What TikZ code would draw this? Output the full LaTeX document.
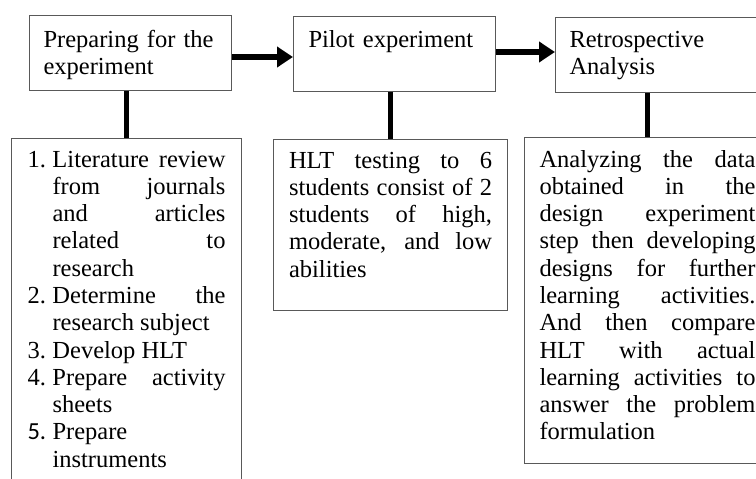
\documentclass[tikz,border=0pt]{standalone}
\usepackage{fontspec}
\setmainfont{Liberation Serif}
\newfontfamily\numfont{Carlito}
\usetikzlibrary{arrows.meta}

\newcommand{\stepitem}[1]{\noindent\hangindent=25pt\hangafter=1\makebox[25pt][l]{#1}}

\begin{document}
\begin{tikzpicture}[x=1pt,y=-1pt,
    stagebox/.style={draw=black!65, line width=1pt, anchor=base west, inner ysep=0pt,
      font=\fontsize{24.5}{27.3}\selectfont,
      execute at begin node={\tolerance=10000\hbadness=10000}},
    flow/.style={line width=5.5pt, -{Triangle[length=16pt,width=20pt]}},
    link/.style={line width=5.5pt}]
  \useasboundingbox (0,0) rectangle (756,479);
  \clip (0,0) rectangle (756,479);

  % top row
  \node[stagebox, align=left, text width=174pt, inner xsep=14pt,
        text height=32pt, text depth=43pt] (prep) at (29,47)
        {Preparing for the\\experiment};
  \node[stagebox, align=left, text width=172pt, inner xsep=15pt,
        text height=31pt, text depth=44pt] (pilot) at (293,47)
        {Pilot experiment};
  \node[stagebox, align=left, text width=172.5pt, inner xsep=14pt,
        text height=30pt, text depth=45pt] (retro) at (555,47)
        {Retrospective\\Analysis};

  % bottom row
  \node[stagebox, align=justify, text width=198pt, inner xsep=16pt,
        text height=29pt, text depth=340pt] (list) at (11,167) {%
    \stepitem{1.}Literature review\linebreak from journals\linebreak and articles\linebreak related to\linebreak research\par
    \stepitem{2.}Determine the\linebreak research subject\par
    \stepitem{3.}Develop HLT\par
    \stepitem{4.}Prepare activity\linebreak sheets\par
    \stepitem{{\numfont 5.}}Prepare\linebreak instruments\par};
  \node[stagebox, align=justify, text width=203pt, inner xsep=15.5pt,
        text height=29pt, text depth=142pt] (hlt) at (273,168) {%
    HLT testing to 6\linebreak students consist of 2\linebreak students of high,\linebreak
    moderate, and low\linebreak abilities};
  \node[stagebox, align=justify, text width=216pt, inner xsep=15pt,
        text height=30pt, text depth=296pt] (analysis) at (524,167) {%
    Analyzing the data\linebreak obtained in the\linebreak design experiment\linebreak
    step then developing\linebreak designs for further\linebreak learning activities.\linebreak
    And then compare\linebreak HLT with actual\linebreak learning activities to\linebreak
    answer the problem\linebreak formulation};

  % connectors
  \draw[flow] ([yshift=-4.5pt]prep.east) -- ([yshift=-4.5pt]prep.east -| pilot.west);
  \draw[flow] ([yshift=1.5pt]pilot.east) -- ([yshift=1.5pt]pilot.east -| retro.west);
  \draw[link] (prep.south -| list.north) -- (list.north);
  \draw[link] (pilot.south -| hlt.north) -- (hlt.north);
  \draw[link] (retro.south -| analysis.north) -- (analysis.north);
\end{tikzpicture}
\end{document}
